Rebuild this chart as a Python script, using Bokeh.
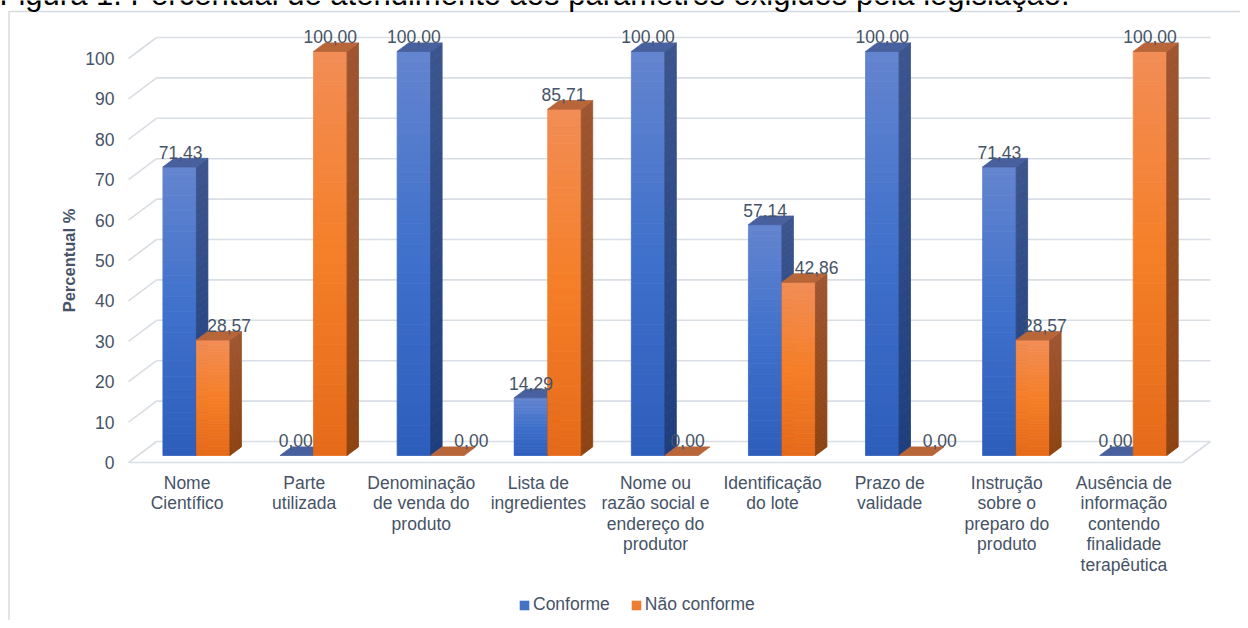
import math
from bokeh.plotting import figure
from bokeh.models import Range1d, ColumnDataSource, Legend, LegendItem
from bokeh.core.properties import value
from bokeh.embed import file_html
from bokeh.resources import INLINE

# ---------------- data ----------------
categories = [
    "Nome\nCientífico",
    "Parte\nutilizada",
    "Denominação\nde venda do\nproduto",
    "Lista de\ningredientes",
    "Nome ou\nrazão social e\nendereço do\nprodutor",
    "Identificação\ndo lote",
    "Prazo de\nvalidade",
    "Instrução\nsobre o\npreparo do\nproduto",
    "Ausência de\ninformação\ncontendo\nfinalidade\nterapêutica",
]
conforme = [71.43, 0.00, 100.00, 14.29, 100.00, 57.14, 100.00, 71.43, 0.00]
nao_conforme = [28.57, 100.00, 0.00, 85.71, 0.00, 42.86, 0.00, 28.57, 100.00]
series_names = ["Conforme", "Não conforme"]
y_ticks = [0, 10, 20, 30, 40, 50, 60, 70, 80, 90, 100]
y_title = "Percentual %"
title_text = "Figura 1. Percentual de atendimento aos parâmetros exigidos pela legislação."

# label nudges (pixels), as placed in the original chart
label_dx_conf = [1, -1, 0, 0, 0, 0, 0, 0, -1]
label_dx_nc = [16, 0, 24, -1, 6, 18, 24, 12, 0]

# ---------------- layout constants ----------------
W, H = 1240, 620
PX_X = 117.1      # pixels per category
X0 = 186.6        # canvas px of first category centre (front plane)
PX_Y = 4.04       # pixels per percent
Y0 = 462.0        # canvas px (from top) of value 0 (front plane)

DX = 28.0 / PX_X  # full wall depth in data units
DY = 21.0 / PX_Y
F_BAR = 1.0 / 3.0  # bar front plane depth
D_BAR = 0.41       # bar depth
BW = 33.5 / PX_X   # bar width

FONT = value("Liberation Sans")
FS = "17.5px"
TXT = "#465366"
GRID = "#d9dde4"

x_range = Range1d(-X0 / PX_X, (W - X0) / PX_X)
y_range = Range1d(-(H - Y0) / PX_Y, Y0 / PX_Y)


def px_x(px):
    return x_range.start + px / PX_X


def px_y(py):
    return (Y0 - py) / PX_Y


p = figure(width=W, height=H, x_range=x_range, y_range=y_range,
           output_backend="svg", toolbar_location=None, min_border=0)
p.axis.visible = False
p.grid.visible = False
p.outline_line_color = None
p.background_fill_color = "white"
p.border_fill_color = "white"

# chart-area border (left and top)
p.segment(x0=[px_x(8.5), px_x(8)], y0=[px_y(11), px_y(11)],
          x1=[px_x(8.5), px_x(W)], y1=[px_y(H), px_y(11)],
          line_color="#d6dae2", line_width=1.5)

# ---------------- 3D walls ----------------
n = len(categories)
xl, xr = -0.5, n - 0.5
gx, gy = [], []
for v in y_ticks:
    gx.append([xl + DX, xr + DX]); gy.append([v + DY, v + DY])
    gx.append([xl, xl + DX]); gy.append([v, v + DY])
gx.append([xl, xr]); gy.append([0, 0])
gx.append([xr, xr + DX]); gy.append([0, DY])
p.multi_line(xs=gx, ys=gy, line_color=GRID, line_width=1.6)


# ---------------- bars ----------------
def lerp(c1, c2, t):
    return tuple(c1[k] + (c2[k] - c1[k]) * t for k in range(3))


def grad(stops, s):
    for (p0, c0), (p1, c1) in zip(stops, stops[1:]):
        if s <= p1:
            return lerp(c0, c1, (s - p0) / (p1 - p0))
    return stops[-1][1]


def hexc(c):
    return "#%02x%02x%02x" % tuple(int(round(max(0, min(255, v)))) for v in c)


styles = [
    dict(front=[(0, (46, 94, 188)), (0.5, (63, 112, 203)), (1, (100, 133, 207))],
         side=[(0, (31, 62, 126)), (1, (60, 85, 142))],
         top=(72, 96, 158), color="#4472c4"),
    dict(front=[(0, (229, 106, 26)), (0.5, (245, 127, 40)), (1, (242, 141, 86))],
         side=[(0, (141, 67, 18)), (1, (158, 85, 48))],
         top=(184, 101, 58), color="#ed7d31"),
]

N = 40
fx, fy = F_BAR * DX, F_BAR * DY
bdx, bdy = D_BAR * DX, D_BAR * DY
legend_items = []
label_src = dict(x=[], y=[], text=[], dx=[])

for si, (vals, dxs) in enumerate([(conforme, label_dx_conf), (nao_conforme, label_dx_nc)]):
    st = styles[si]
    fq = dict(left=[], right=[], bottom=[], top=[], color=[])
    sp = dict(xs=[], ys=[], color=[])
    tp = dict(xs=[], ys=[], color=[])
    for i, v in enumerate(vals):
        left = i - BW + si * BW + fx
        right = left + BW
        b = fy
        t = v + fy
        if v > 0:
            for k in range(N):
                y0 = b + (t - b) * k / N
                y1 = b + (t - b) * (k + 1) / N
                s = (k + 0.5) / N
                fq["left"].append(left); fq["right"].append(right)
                fq["bottom"].append(y0); fq["top"].append(y1)
                fq["color"].append(hexc(grad(st["front"], s)))
                sp["xs"].append([right, right + bdx, right + bdx, right])
                sp["ys"].append([y0, y0 + bdy, y1 + bdy, y1])
                sp["color"].append(hexc(grad(st["side"], s)))
        tp["xs"].append([left, right, right + bdx, left + bdx])
        tp["ys"].append([t, t, t + bdy, t + bdy])
        tp["color"].append(hexc(st["top"]))
        label_src["x"].append((left + right) / 2)
        label_src["y"].append(t + bdy)
        label_src["text"].append(f"{v:.2f}".replace(".", ","))
        label_src["dx"].append(dxs[i])
    p.quad(source=ColumnDataSource(fq), left="left", right="right", bottom="bottom",
           top="top", fill_color="color", line_color="color", line_width=0.8)
    p.patches(source=ColumnDataSource(sp), xs="xs", ys="ys", fill_color="color",
              line_color="color", line_width=0.8)
    p.patches(source=ColumnDataSource(tp), xs="xs", ys="ys", fill_color="color",
              line_color="color", line_width=0.8)
    nan = float("nan")
    dummy = p.quad(left=[nan], right=[nan], bottom=[nan], top=[nan],
                   fill_color=st["color"], line_color=None)
    legend_items.append(LegendItem(label=series_names[si], renderers=[dummy]))

# data labels
p.text(source=ColumnDataSource(label_src), x="x", y="y", text="text", x_offset="dx",
       y_offset=-6, text_align="center", text_baseline="alphabetic",
       text_font=FONT, text_font_size=FS, text_color=TXT)

# y tick labels
p.text(x=[xl] * len(y_ticks), y=y_ticks, text=[str(v) for v in y_ticks],
       x_offset=-14, text_align="right", text_baseline="middle",
       text_font=FONT, text_font_size=FS, text_color=TXT)

# y axis title
p.text(x=[xl], y=[50], text=[y_title], x_offset=-60, angle=math.pi / 2,
       text_align="center", text_baseline="middle", text_font=FONT,
       text_font_size="16.5px", text_font_style="bold", text_color=TXT)

# category labels
p.text(x=list(range(n)), y=[0] * n, text=categories, y_offset=10,
       text_align="center", text_baseline="top", text_line_height=1.03,
       text_font=FONT, text_font_size=FS, text_color=TXT)

# title (cut off at the top, as in the original)
p.text(x=[px_x(-1)], y=[px_y(-6)], text=[title_text], text_align="left",
       text_baseline="alphabetic", text_font=FONT, text_font_size="31px",
       text_color="#000000")

legend = Legend(items=legend_items, orientation="horizontal",
                location=(518, 5), margin=0, padding=0, spacing=20,
                glyph_width=12, glyph_height=12, label_standoff=3,
                label_text_font="Liberation Sans", label_text_font_size=FS,
                label_text_color=TXT, background_fill_alpha=0,
                border_line_color=None, label_height=20)
p.add_layout(legend, "center")

open("out.html", "w").write(file_html(p, INLINE))
